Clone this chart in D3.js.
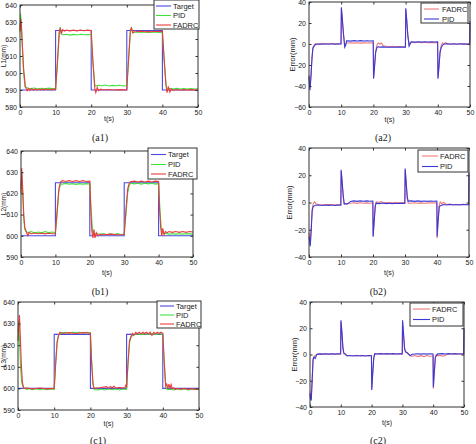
<!DOCTYPE html>
<html>
<head>
<meta charset="utf-8">
<script src="https://cdn.jsdelivr.net/npm/d3@7"></script>
<style>
  body { margin: 0; background: #fff; }
  svg { display: block; }
</style>
</head>
<body>
<div id="chart"></div>
<script>
// ---- data ----
const timeTicks = [0, 10, 20, 30, 40, 50];
const ticksA1 = [580, 590, 600, 610, 620, 630, 640];
const ticksL = [590, 600, 610, 620, 630, 640];
const ticksA2 = [-60, -40, -20, 0, 20, 40];
const ticksErr = [-40, -20, 0, 20, 40];

const targetA1 = [[0, 590], [10, 590], [10, 625], [20, 625], [20, 590], [30, 590], [30, 625], [40, 625], [40, 590], [50, 590]];
const targetBC = [[0, 600], [10, 600], [10, 625], [20, 625], [20, 600], [30, 600], [30, 625], [40, 625], [40, 600], [50, 600]];

const a1Pid = [[0, 624], [0.15, 635], [0.3, 631], [0.6, 618], [1, 600], [1.4, 592], [1.8, 591.5], [2.2, 591], [3, 590.8], [4, 591.2], [5, 590.6], [6, 591], [7, 590.7], [8, 591.1], [9, 590.8], [10, 591],
  [10.5, 605], [11, 622], [11.3, 627], [11.6, 623], [12, 622.5], [13, 622.8], [14, 622.3], [15, 622.7], [16, 622.4], [17, 622.8], [18, 622.5], [19, 622.6], [20, 622.5],
  [20.5, 606], [21, 593], [21.4, 592.3], [22, 592.8], [23, 592.5], [24, 592.9], [25, 592.4], [26, 592.7], [27, 592.5], [28, 592.8], [29, 592.4], [30, 592.6],
  [30.5, 608], [31, 624], [31.3, 627], [31.6, 624], [32, 623.8], [33, 624.2], [34, 623.9], [35, 624.1], [36, 623.8], [37, 624], [38, 624.2], [39, 623.9], [40, 624],
  [40.5, 607], [41, 593], [41.4, 591], [42, 590.8], [43, 590.5], [44, 591], [45, 590.6], [46, 590.9], [47, 590.5], [48, 590.8], [49, 590.6], [50, 590.7]];
const a1Fadrc = [[0, 625], [0.2, 632], [0.4, 628], [0.7, 615], [1, 603], [1.5, 592], [2, 589.5], [2.4, 591], [2.8, 589.6], [3.3, 590.8], [3.8, 589.8], [4.3, 590.6], [4.8, 590], [5.3, 590.7], [5.8, 589.9], [6.3, 590.5], [6.8, 590.1], [7.3, 590.6], [7.8, 590], [8.3, 590.4], [8.8, 590.1], [9.3, 590.5], [10, 590.2],
  [10.5, 606], [11, 624], [11.3, 626.5], [11.6, 623], [12, 625.5], [12.5, 624.6], [13, 625.3], [14, 624.8], [15, 625.2], [16, 624.8], [17, 625.3], [18, 624.9], [19, 625.2], [20, 625],
  [20.5, 606], [21, 591], [21.3, 588.5], [21.7, 591.5], [22.1, 589.5], [22.6, 590.5], [23.5, 590], [25, 590.3], [26.5, 590], [28, 590.2], [30, 590],
  [30.5, 608], [31, 625], [31.3, 626.5], [31.7, 623.5], [32.2, 624.8], [33, 624.3], [34, 624.6], [35, 624.3], [36, 624.5], [37, 624.3], [38, 624.6], [39, 624.4], [40, 624.5],
  [40.5, 608], [41, 593], [41.3, 588.5], [41.7, 591.5], [42.1, 588.8], [42.5, 590.8], [43, 589.8], [44, 590.3], [45, 589.9], [46, 590.2], [47, 590], [48, 590.2], [50, 590]];

const a2Pid = [[0, -31], [0.3, -44], [0.6, -32], [0.9, -15], [1.2, -4], [1.6, -2], [2, -0.5], [3, 0], [4, -0.3], [5, 0.2], [6, -0.2], [7, 0.2], [8, -0.2], [9, 0.1], [9.95, 0],
  [10.05, 35], [10.3, 26], [10.7, 10], [11.1, -3], [11.4, -1], [11.7, 3], [12, 3], [13, 2.7], [14, 3.2], [15, 2.8], [16, 3.2], [17, 2.8], [18, 3.1], [19, 2.9], [19.95, 3],
  [20.05, -33], [20.3, -24], [20.7, -8], [21.1, -3.5], [21.5, -2.5], [22, -3], [23, -2.7], [24, -3.1], [25, -2.8], [26, -3.1], [27, -2.8], [28, -3], [29, -2.8], [29.95, -3],
  [30.05, 34], [30.3, 25], [30.7, 8], [31.1, -2], [31.4, 0], [31.7, 2], [32, 2], [33, 1.8], [34, 2.2], [35, 1.8], [36, 2.1], [37, 1.9], [38, 2.1], [39, 1.9], [39.95, 2],
  [40.05, -33], [40.3, -24], [40.7, -8], [41.1, -3], [41.5, -1], [42, 0], [43, 0.2], [44, -0.2], [45, 0.2], [46, -0.2], [47, 0.2], [48, -0.1], [49.9, 0], [50, 22]];
const a2Fadrc = [[0, -30], [0.3, -42], [0.6, -30], [0.9, -14], [1.2, -4], [1.6, -1], [2, 0.5], [3, 0], [4, 0.6], [5, -0.2], [6, 0.5], [7, 0], [8, 0.4], [9, 0], [9.95, 0.2],
  [10.05, 34], [10.3, 25], [10.7, 9], [11.1, -2], [11.5, 1], [12, 1], [13, 1.2], [14, 0.8], [15, 1.2], [16, 0.8], [17, 1.1], [18, 0.9], [19, 1.1], [19.95, 1],
  [20.05, -32], [20.3, -23], [20.7, -7], [21.1, -1], [21.5, 1], [22, 0], [22.5, 1], [23, -1.5], [24, -2.3], [25, -2.6], [26, -2.3], [27, -2.6], [28, -2.4], [29, -2.6], [29.95, -2.5],
  [30.05, 33], [30.3, 24], [30.7, 8], [31.1, -1], [31.5, 1.5], [32, 1.5], [33, 1.2], [34, 1.6], [35, 1.3], [36, 1.6], [37, 1.3], [38, 1.5], [39, 1.3], [39.95, 1.5],
  [40.05, -32], [40.3, -23], [40.7, -7], [41.1, -1], [41.5, 1], [42, 0.5], [42.5, 1.2], [43, 0], [44, 0.3], [45, -0.1], [46, 0.2], [47, 0], [48, 0.2], [49.9, 0], [50, 20]];

const b1Pid = [[0, 622], [0.2, 630], [0.5, 620], [0.8, 608], [1.1, 603], [1.5, 602], [2, 601.5], [3, 602], [4, 601.3], [5, 601.8], [6, 601.4], [7, 602], [8, 601.5], [9, 601.8], [10, 601.5],
  [10.5, 610], [11, 621], [11.5, 624.5], [12, 624.3], [13, 624.7], [14, 624.3], [15, 624.6], [16, 624.2], [17, 624.6], [18, 624.3], [19, 624.6], [20, 624.4],
  [20.4, 612], [20.8, 602], [21.3, 600.5], [22, 601], [23, 600.6], [24, 601], [25, 600.5], [26, 600.9], [27, 600.6], [28, 601], [29, 600.6], [30, 600.8],
  [30.5, 610], [31, 620], [31.5, 624], [32, 624.8], [33, 624.5], [34, 624.8], [35, 624.4], [36, 624.8], [37, 624.5], [38, 624.8], [39, 624.4], [40, 624.6],
  [40.4, 612], [40.8, 603], [41.3, 601], [42, 601.2], [43, 600.8], [44, 601], [45, 600.8], [46, 601], [47, 600.8], [48, 601], [50, 600.9]];
const b1Fadrc = [[0, 620], [0.2, 632], [0.5, 622], [0.8, 610], [1.1, 604], [1.5, 602], [2, 600], [2.4, 601.5], [3, 601], [4, 601.3], [5, 601], [6, 601.2], [7, 600.9], [8, 601.2], [9, 601], [10, 601],
  [10.5, 612], [11, 622], [11.5, 625.5], [12, 626], [13, 625.6], [14, 626], [15, 625.6], [16, 626], [17, 625.6], [18, 626], [19, 625.6], [20, 625.8],
  [20.3, 612], [20.6, 602], [20.9, 599], [21.2, 603], [21.5, 599], [21.9, 601.5], [22.4, 600], [23, 600.8], [24, 600.5], [26, 600.8], [28, 600.5], [30, 600.6],
  [30.5, 612], [31, 622], [31.4, 624.5], [31.8, 625.5], [33, 625.8], [34, 625.4], [35, 625.8], [36, 625.4], [37, 625.8], [38, 625.4], [39, 625.8], [40, 625.6],
  [40.3, 612], [40.6, 604], [40.9, 600], [41.2, 603.5], [41.6, 600.5], [42, 602], [42.5, 601.5], [43, 602], [44, 601.6], [45, 602], [46, 601.6], [47, 602], [48, 601.6], [49, 602], [50, 601.8]];

const b2Pid = [[0, -25], [0.2, -28], [0.4, -32], [0.7, -20], [1, -6], [1.3, -3], [2, -2], [3, -1.8], [4, -2.2], [5, -1.8], [6, -2.1], [7, -1.8], [8, -2.2], [9, -1.9], [9.95, -2],
  [10.05, 24], [10.3, 17], [10.7, 5], [11, -1], [12, -1], [13, 0.8], [14, 1.2], [15, 0.8], [16, 1.2], [17, 0.9], [18, 1.2], [19, 0.9], [19.95, 1],
  [20.05, -25], [20.3, -16], [20.7, -3], [21, -0.5], [22, -0.8], [23, -0.4], [24, -0.8], [25, -0.5], [26, -0.8], [27, -0.5], [28, -0.7], [29, -0.5], [29.95, -0.6],
  [30.05, 25], [30.3, 17], [30.7, 4], [31, 1], [32, 1.2], [33, 0.8], [34, 1.2], [35, 0.8], [36, 1.1], [37, 0.8], [38, 1.1], [39, 0.9], [39.95, 1],
  [40.05, -25], [40.3, -15], [40.7, -3], [41, -2.5], [42, -1.5], [43, -1.8], [44, -1.4], [45, -1.8], [46, -1.5], [47, -1.8], [48, -1.5], [49.9, -1.6], [50, 22]];
const b2Fadrc = [[0, -22], [0.2, -27], [0.4, -30], [0.7, -18], [1, -5], [1.3, -1], [1.7, 0.5], [2.2, -1], [3, -1.5], [4, -1.6], [6, -1.5], [8, -1.7], [9.95, -1.6],
  [10.05, 23], [10.3, 16], [10.7, 4], [11, -1], [12, -0.8], [13, -0.5], [14, -0.2], [15, -0.6], [16, -0.2], [17, -0.6], [18, -0.3], [19, -0.6], [19.95, -0.4],
  [20.05, -25], [20.3, -15], [20.7, -2], [21, 0.5], [22, 0], [22.5, 0.8], [23, -0.3], [24, 0], [26, -0.3], [28, 0], [29.95, -0.2],
  [30.05, 24], [30.3, 16], [30.7, 3], [31, -0.5], [32, -0.5], [33, -0.2], [34, -0.6], [35, -0.3], [36, -0.5], [38, -0.3], [39.95, -0.4],
  [40.05, -26], [40.3, -15], [40.7, -2], [41, 0.5], [41.5, -1], [42, 0.2], [43, -1.5], [44, -1.3], [46, -1.6], [48, -1.4], [49.9, -1.5], [50, 20]];

const c1Pid = [[0, 626], [0.2, 631], [0.4, 624], [0.7, 610], [1, 603], [1.3, 601], [1.7, 600], [2.5, 599.5], [3, 599.8], [4, 599.4], [5, 599.8], [6, 599.4], [7, 599.7], [8, 599.4], [9, 599.7], [10, 599.5],
  [10.4, 612], [10.8, 622], [11.3, 625], [12, 625.6], [13, 626], [14, 625.6], [15, 626], [16, 625.7], [17, 626], [18, 625.6], [19, 626], [20, 625.8],
  [20.3, 614], [20.7, 603], [21, 599.5], [22, 599.3], [23, 599.7], [24, 599.3], [25, 599.7], [26, 599.4], [27, 599.7], [28, 599.3], [29, 599.7], [30, 599.5],
  [30.4, 612], [30.8, 621], [31.2, 623.5], [31.6, 624.5], [32, 625], [33, 625.3], [34, 624.9], [35, 625.3], [36, 625], [37, 625.3], [38, 625], [39, 625.3], [40, 625.1],
  [40.4, 612], [40.8, 601], [41.2, 599.4], [42, 599.6], [43, 599.3], [44, 599.7], [45, 599.4], [46, 599.7], [47, 599.3], [48, 599.6], [50, 599.5]];
const c1Fadrc = [[0, 622], [0.2, 628], [0.4, 634], [0.6, 626], [0.9, 612], [1.2, 603], [1.6, 600], [2.5, 600.2], [4, 599.8], [6, 600.2], [8, 599.8], [10, 600],
  [10.4, 611], [10.8, 621], [11.2, 624.5], [11.6, 626], [12.5, 625.4], [14, 625.8], [16, 625.4], [18, 625.8], [20, 625.5],
  [20.3, 613], [20.7, 602], [21, 600], [22.5, 600.3], [24.5, 600.8], [25, 600], [25.5, 600.9], [26, 600.3], [26.5, 601], [27, 600.2], [28, 600.4], [29.5, 600.2], [29.8, 601.5], [30, 600.5],
  [30.4, 612], [30.8, 622], [31.2, 624], [31.6, 625.5], [32, 624.5], [32.5, 626], [33, 625.3], [33.5, 626], [34, 625.2], [34.5, 626], [35, 625.4], [35.5, 626], [36, 625.2], [36.5, 626], [37, 624.5], [37.5, 626], [38, 625.3], [38.5, 626], [39, 625.4], [39.5, 626], [40, 625.5],
  [40.4, 612], [40.8, 601], [41.1, 602], [41.4, 600], [41.7, 602], [42, 600], [42.3, 601.8], [42.6, 600], [43, 600.2], [43.5, 599.5], [44, 600], [45, 599.6], [46, 600], [47, 599.5], [48, 599.9], [49, 599.5], [50, 599.8]];

const c2Pid = [[0, -30], [0.2, -34], [0.4, -35], [0.7, -20], [1, -4], [1.3, -2], [1.7, -3], [2.2, 0], [3, 0.5], [4, 0.3], [5, 0.6], [6, 0.3], [7, 0.6], [8, 0.3], [9, 0.6], [9.95, 0.4],
  [10.05, 26], [10.3, 19], [10.7, 5], [11, 1], [11.5, 0.5], [12, -1], [13, -0.8], [14, -1.1], [15, -0.8], [16, -1], [17, -0.8], [18, -1.1], [19, -0.8], [19.95, -1],
  [20.05, -27], [20.3, -17], [20.7, -3], [21, 0.5], [22, 0.4], [23, 0.7], [24, 0.4], [25, 0.7], [26, 0.4], [27, 0.7], [28, 0.4], [29, 0.6], [29.95, 0.5],
  [30.05, 26], [30.3, 18], [30.7, 5], [31, 2], [31.5, 1.5], [32, 0.5], [32.5, -1], [33, 0], [34, 0.4], [35, 0.6], [36, 0.3], [37, 0.6], [38, 0.3], [39, 0.6], [39.95, 0.4],
  [40.05, -25], [40.3, -15], [40.7, -2], [41, -1], [41.5, 0.5], [42, 0.5], [43, 0.7], [44, 0.4], [45, 0.7], [46, 0.4], [47, 0.7], [48, 0.4], [49.9, 0.5], [50, 20]];
const c2Fadrc = [[0, -28], [0.2, -32], [0.4, -34], [0.7, -19], [1, -3], [1.5, -1], [2.5, 0.3], [5, 0.4], [8, 0.3], [9.95, 0.4],
  [10.05, 25], [10.3, 18], [10.7, 4], [11, 0.5], [12, -0.8], [15, -0.9], [19.95, -0.9],
  [20.05, -26], [20.3, -16], [20.7, -2], [21, 0.5], [25, 0.5], [29.95, 0.5],
  [30.05, 25], [30.3, 17], [30.7, 4], [31, 2.5], [31.5, 1], [32, 0], [32.5, -0.5], [33, -1.5], [34, -0.8], [35, -1.6], [36, -0.9], [37, -1.6], [38, -0.8], [39, -1.5], [39.95, -1],
  [40.05, -26], [40.3, -16], [40.7, -2], [41, 0], [41.5, -1], [42, -0.6], [43, -1.2], [44, -0.8], [44.5, 0.5], [46, 0.5], [49.9, 0.5], [50, 19]];

// ---- styles ----
const colTarget = "#4a4ae0";
const colPidL = "#3ee23e";
const colFadrcL = "#ec3b3b";
const colPidE = "#3a3ad8";
const colFadrcE = "#f07a7a";
const font = "'Liberation Sans', Arial, sans-serif";

const width = 476, height = 444;
const svg = d3.select("#chart").append("svg")
  .attr("width", width)
  .attr("height", height);

const panels = [
  { x0: 20, x1: 198, y0: 5, y1: 107, yDom: [580, 640], yTicks: ticksA1, yLabel: "L1(mm)", yLabelX: 6.3, xLabelY: 118,
    series: [
      { name: "Target", data: targetA1, color: colTarget },
      { name: "PID", data: a1Pid, color: colPidL },
      { name: "FADRC", data: a1Fadrc, color: colFadrcL }],
    legend: { x: 154, y: 0, w: 45, h: 29, rows: [6, 15.5, 25], line: [2, 17], text: 19 },
    caption: "(a1)", capX: 100, capY: 137 },
  { x0: 309, x1: 470, y0: 2, y1: 107, yDom: [-60, 40], yTicks: ticksA2, yLabel: "Error(mm)", yLabelX: 295, xLabelY: 119,
    series: [
      { name: "FADRC", data: a2Fadrc, color: colFadrcE },
      { name: "PID", data: a2Pid, color: colPidE }],
    legend: { x: 421, y: 3, w: 47, h: 20, rows: [6, 16], line: [3, 18], text: 21 },
    caption: "(a2)", capX: 383, capY: 137 },
  { x0: 21, x1: 193, y0: 151, y1: 257, yDom: [590, 640], yTicks: ticksL, yLabel: "L2(mm)", yLabelX: 6.3, xLabelY: 272,
    series: [
      { name: "Target", data: targetBC, color: colTarget },
      { name: "PID", data: b1Pid, color: colPidL },
      { name: "FADRC", data: b1Fadrc, color: colFadrcL }],
    legend: { x: 148, y: 148, w: 49, h: 31, rows: [6.5, 16.5, 26], line: [3, 18], text: 20 },
    caption: "(b1)", capX: 100, capY: 291 },
  { x0: 309, x1: 469, y0: 148, y1: 257, yDom: [-40, 40], yTicks: ticksErr, yLabel: "Error(mm)", yLabelX: 292, xLabelY: 272,
    series: [
      { name: "FADRC", data: b2Fadrc, color: colFadrcE },
      { name: "PID", data: b2Pid, color: colPidE }],
    legend: { x: 418, y: 150, w: 50, h: 22, rows: [6, 16.5], line: [4, 20], text: 22 },
    caption: "(b2)", capX: 378, capY: 291 },
  { x0: 18, x1: 199, y0: 302, y1: 410, yDom: [590, 640], yTicks: ticksL, yLabel: "L3(mm)", yLabelX: 6.3, xLabelY: 423,
    series: [
      { name: "Target", data: targetBC, color: colTarget },
      { name: "PID", data: c1Pid, color: colPidL },
      { name: "FADRC", data: c1Fadrc, color: colFadrcL }],
    legend: { x: 157, y: 301, w: 44, h: 27, rows: [5, 14, 23], line: [3, 17], text: 19 },
    caption: "(c1)", capX: 98, capY: 440 },
  { x0: 310, x1: 464, y0: 302, y1: 407, yDom: [-40, 40], yTicks: ticksErr, yLabel: "Error(mm)", yLabelX: 297, xLabelY: 422,
    series: [
      { name: "FADRC", data: c2Fadrc, color: colFadrcE },
      { name: "PID", data: c2Pid, color: colPidE }],
    legend: { x: 410, y: 303, w: 53, h: 23, rows: [6, 16.5], line: [3, 20], text: 22 },
    caption: "(c2)", capX: 378, capY: 440 }
];

panels.forEach(p => {
  const x = d3.scaleLinear().domain([0, 50]).range([p.x0, p.x1]);
  const y = d3.scaleLinear().domain(p.yDom).range([p.y1, p.y0]);
  const g = svg.append("g");

  // data lines
  const line = d3.line().x(d => x(d[0])).y(d => y(d[1]));
  p.series.forEach(s => {
    g.append("path")
      .datum(s.data)
      .attr("d", line)
      .attr("fill", "none")
      .attr("stroke", s.color)
      .attr("stroke-width", 1.1);
  });

  // axes, ticks pointing inward (matlab style)
  const styleAxis = sel => {
    sel.select(".domain").remove();
    sel.selectAll("line").attr("stroke", "#333");
    sel.selectAll("text").attr("fill", "#222");
    sel.attr("font-family", font).attr("font-size", 7);
  };
  g.append("g")
    .attr("transform", `translate(0,${p.y1})`)
    .call(d3.axisBottom(x).tickValues(timeTicks).tickSizeInner(-2.5).tickSizeOuter(0).tickPadding(3))
    .call(styleAxis);
  g.append("g")
    .attr("transform", `translate(0,${p.y0})`)
    .call(d3.axisTop(x).tickValues(timeTicks).tickSizeInner(-2.5).tickSizeOuter(0).tickFormat(""))
    .call(styleAxis);
  g.append("g")
    .attr("transform", `translate(${p.x0},0)`)
    .call(d3.axisLeft(y).tickValues(p.yTicks).tickSizeInner(-2.5).tickSizeOuter(0).tickPadding(3))
    .call(styleAxis);
  g.append("g")
    .attr("transform", `translate(${p.x1},0)`)
    .call(d3.axisRight(y).tickValues(p.yTicks).tickSizeInner(-2.5).tickSizeOuter(0).tickFormat(""))
    .call(styleAxis);

  g.append("rect")
    .attr("x", p.x0).attr("y", p.y0)
    .attr("width", p.x1 - p.x0).attr("height", p.y1 - p.y0)
    .attr("fill", "none").attr("stroke", "#333").attr("stroke-width", 1);

  // axis titles
  g.append("text")
    .attr("x", (p.x0 + p.x1) / 2).attr("y", p.xLabelY)
    .attr("text-anchor", "middle").attr("dominant-baseline", "central")
    .attr("font-family", font).attr("font-size", 7).attr("fill", "#222")
    .text("t(s)");
  g.append("text")
    .attr("transform", `translate(${p.yLabelX},${(p.y0 + p.y1) / 2}) rotate(-90)`)
    .attr("text-anchor", "middle")
    .attr("font-family", font).attr("font-size", p.yLabel === "Error(mm)" ? 7.5 : 6.5).attr("fill", "#222")
    .text(p.yLabel);

  // legend box
  const L = p.legend;
  const lg = g.append("g").attr("transform", `translate(${L.x},${L.y})`);
  lg.append("rect")
    .attr("width", L.w).attr("height", L.h)
    .attr("fill", "#fff").attr("stroke", "#333").attr("stroke-width", 1);
  p.series.forEach((s, i) => {
    lg.append("line")
      .attr("x1", L.line[0]).attr("x2", L.line[1])
      .attr("y1", L.rows[i]).attr("y2", L.rows[i])
      .attr("stroke", s.color).attr("stroke-width", 1.1);
    lg.append("text")
      .attr("x", L.text).attr("y", L.rows[i])
      .attr("dominant-baseline", "central")
      .attr("font-family", font).attr("font-size", 7.5).attr("fill", "#222")
      .text(s.name);
  });

  // caption under each plot
  svg.append("text")
    .attr("x", p.capX).attr("y", p.capY)
    .attr("text-anchor", "middle").attr("dominant-baseline", "central")
    .attr("font-family", "'Liberation Serif', 'Times New Roman', serif")
    .attr("font-size", 10).attr("fill", "#222")
    .text(p.caption);
});
</script>
</body>
</html>
